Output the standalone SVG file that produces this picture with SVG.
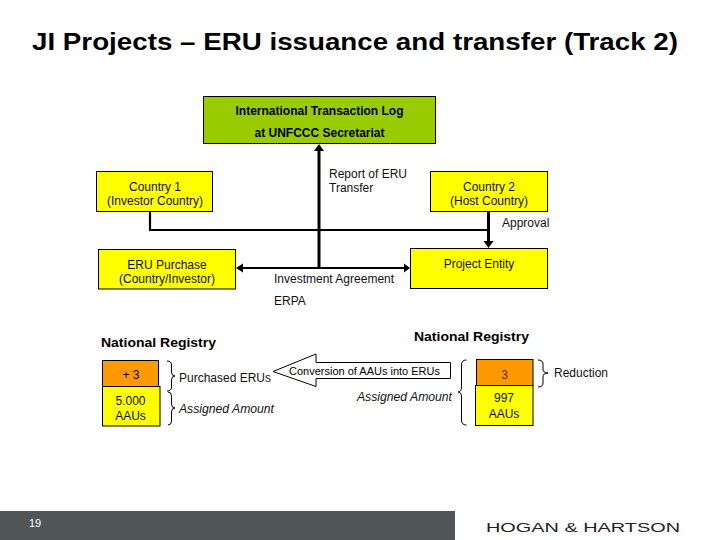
<svg xmlns="http://www.w3.org/2000/svg" width="720" height="540" viewBox="0 0 720 540">
<defs>
<style>
text{font-family:"Liberation Sans",Arial,sans-serif;fill:#000}
.t{font-size:12px;text-anchor:middle;fill:#111}
.l{font-size:12px;fill:#111}
.b{font-size:12px;font-weight:bold;text-anchor:middle}
.h{font-size:13.500px;font-weight:bold}
.i{font-size:12px;font-style:italic;fill:#111}
.y{fill:#ffff00;stroke:#000;stroke-width:1}
.o{fill:#ff9900;stroke:#000;stroke-width:1}
.brace{fill:none;stroke:#000;stroke-width:1}
.thick{fill:none;stroke:#000;stroke-width:3}
.thin{fill:none;stroke:#000;stroke-width:2.2}
</style>
</defs>
<rect width="720" height="540" fill="#fff"/>
<text x="32" y="50" style="font-size:23.500px;font-weight:bold" textLength="646" lengthAdjust="spacingAndGlyphs">JI Projects – ERU issuance and transfer (Track 2)</text>
<g id="connectors">
<path class="thin" d="M150 211V230H488"/>
<path class="thick" d="M488.500 211V241"/>
<path d="M483.500 241H493.500L488.500 248Z"/>
<path class="thin" d="M243 268H404"/>
<path d="M236 268L243 263.500V272.500Z"/>
<path d="M410 268L404 263.500V272.500Z"/>
<path class="thick" d="M319 268V151"/>
<path d="M319 144L314 151H324Z"/>
</g>
<g id="itl">
<rect x="203.500" y="96.500" width="232" height="47" fill="#99cc00" stroke="#000"/>
<text class="b" x="319.500" y="115">International Transaction Log</text>
<text class="b" x="319.500" y="137">at UNFCCC Secretariat</text>
</g>
<g id="country1">
<rect class="y" x="96.500" y="171.500" width="116" height="40"/>
<text class="t" x="155" y="191">Country 1</text>
<text class="t" x="155" y="205">(Investor Country)</text>
</g>
<g id="country2">
<rect class="y" x="430.500" y="171.500" width="117" height="40"/>
<text class="t" x="489" y="191">Country 2</text>
<text class="t" x="489" y="205">(Host Country)</text>
</g>
<g id="eru-purchase">
<rect class="y" x="98.500" y="249.500" width="137" height="39.500"/>
<text class="t" x="167" y="269">ERU Purchase</text>
<text class="t" x="167" y="283">(Country/Investor)</text>
</g>
<g id="project-entity">
<rect class="y" x="410.500" y="248.500" width="137" height="40"/>
<text class="t" x="479" y="268">Project Entity</text>
</g>
<g id="labels">
<text class="l" x="329" y="178">Report of ERU</text>
<text class="l" x="329" y="192">Transfer</text>
<text class="l" x="502" y="227">Approval</text>
<text class="l" x="274" y="283">Investment Agreement</text>
<text class="l" x="274" y="305">ERPA</text>
<text class="h" x="101" y="347" textLength="115" lengthAdjust="spacingAndGlyphs">National Registry</text>
<text class="h" x="414" y="341" textLength="115" lengthAdjust="spacingAndGlyphs">National Registry</text>
</g>
<g id="left-registry">
<rect class="o" x="102.500" y="360.500" width="56" height="26"/>
<text class="t" x="131" y="379">+ 3</text>
<rect class="y" x="102.500" y="386.500" width="57.500" height="39.500"/>
<text class="t" x="130.500" y="405">5.000</text>
<text class="t" x="130.500" y="420">AAUs</text>
</g>
<g id="conversion-arrow">
<path d="M273 371.500L316 354V362.500H450.500V378.500H316V386.500Z" fill="#fff" stroke="#000"/>
<text x="289" y="375" style="font-size:11px" textLength="151" lengthAdjust="spacingAndGlyphs">Conversion of AAUs into ERUs</text>
</g>
<g id="right-registry">
<rect class="o" x="476.500" y="359.500" width="56.500" height="26"/>
<text class="t" x="504.500" y="379" style="fill:#7a1a00">3</text>
<rect class="y" x="475.500" y="385.500" width="57.500" height="40"/>
<text class="t" x="504" y="402">997</text>
<text class="t" x="504" y="418">AAUs</text>
</g>
<g id="braces">
<path class="brace" d="M167 361Q171.500 361 171.500 365V372Q171.500 376 175 376Q171.500 376 171.500 380V387Q171.500 391 167 391"/>
<path class="brace" d="M168 392Q171.500 392 171.500 396V404Q171.500 408 175 408Q171.500 408 171.500 412V421Q171.500 425 168 425"/>
<path class="brace" d="M466.500 360Q461.500 360 461.500 365V387Q461.500 392 458 392Q461.500 392 461.500 397V420Q461.500 425 466.500 425"/>
<path class="brace" d="M538 360Q543 360 543 364V369Q543 373 548 373Q543 373 543 377V383Q543 387 538 387"/>
</g>
<g id="side-labels">
<text class="l" x="179" y="382" textLength="92" lengthAdjust="spacingAndGlyphs">Purchased ERUs</text>
<text class="i" x="179" y="413" textLength="95" lengthAdjust="spacingAndGlyphs">Assigned Amount</text>
<text class="i" x="357" y="401" textLength="95" lengthAdjust="spacingAndGlyphs">Assigned Amount</text>
<text class="l" x="554" y="377" textLength="54" lengthAdjust="spacingAndGlyphs">Reduction</text>
</g>
<g id="footer">
<rect x="0" y="511" width="455" height="29" fill="#505558"/>
<text x="29" y="527" style="font-size:11px;fill:#fff">19</text>
<text x="486" y="532" style="font-size:13.500px;fill:#222" textLength="194" lengthAdjust="spacingAndGlyphs">HOGAN &amp; HARTSON</text>
</g>
</svg>
